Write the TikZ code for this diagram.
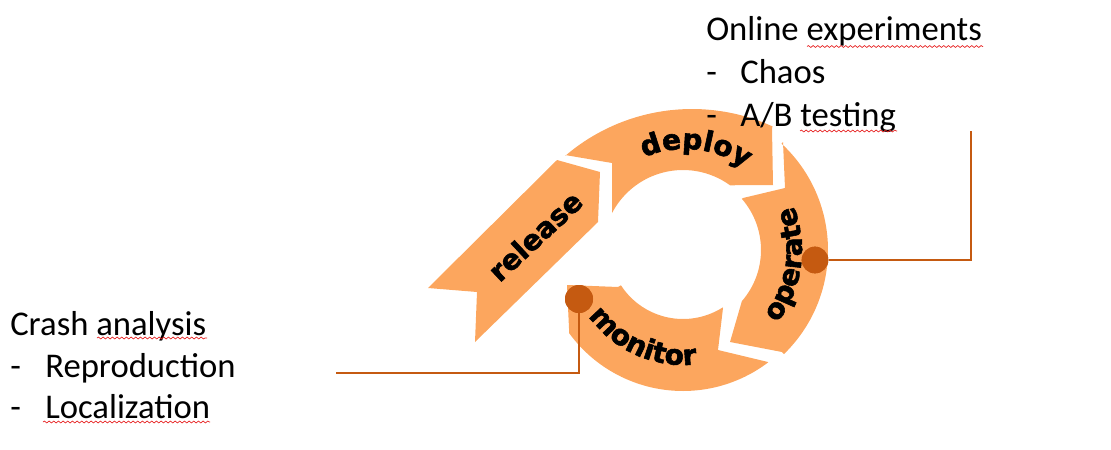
\documentclass[tikz,border=0pt]{standalone}
\usepackage{fontspec}
\setmainfont{Carlito}
\newfontfamily\lblfont{DejaVu Sans}[BoldFont={DejaVu Sans Bold}, BoldFeatures={FakeBold=2}]
\usetikzlibrary{decorations.text,decorations.pathmorphing}
\definecolor{ringfill}{RGB}{252,166,94}
\definecolor{accent}{RGB}{197,90,17}
\definecolor{spell}{RGB}{230,30,30}
\begin{document}
\begin{tikzpicture}[x=0.75pt,y=-0.75pt,
  seg/.style={fill=ringfill, draw=none},
  txt/.style={anchor=base west, inner sep=0pt, font=\fontsize{26}{31}\selectfont},
  conn/.style={draw=accent, line width=1.5pt},
  dotnode/.style={circle, fill=accent, draw=none, inner sep=0pt, minimum size=20pt},
  wavy/.style={draw=spell, line width=0.5pt, decorate, decoration={snake, amplitude=0.7pt, segment length=3.5pt}},
  lblfnt/.style={font=\lblfont\bfseries\fontsize{21}{25}\selectfont}
]
\useasboundingbox (0,0) rectangle (1111,450);

% release (straight chevron arrow)
\fill[seg] (428,288) -- (557,160) -- (600,172) -- (598,222) -- (475,342) -- (477,292) -- cycle;
% deploy
\fill[seg] (565,155) -- (612,163)
  -- plot[domain=-152.5:-54, samples=40] ({683+80*cos(\x)},{250+80*sin(\x)})
  -- (773,185) -- (772,128)
  -- plot[domain=-65.6:-130.4, samples=40] ({692+195*cos(\x)},{304+195*sin(\x)})
  -- cycle;
% operate
\fill[seg] (783,142) -- (785,188) -- (743,198)
  -- plot[domain=-41:41, samples=40] ({683+78*cos(\x)},{250+78*sin(\x)})
  -- (730,342) -- (782,352)
  -- plot[domain=45.9:-47.2, samples=50] ({683+145*cos(\x)},{250+145*sin(\x)})
  -- cycle;
% monitor
\fill[seg] (723,308) -- (718,350) -- (768,362)
  -- plot[domain=52.8:143.8, samples=50] ({683+141*cos(\x)},{250+141*sin(\x)})
  -- (567,285) -- (618,287)
  -- plot[domain=147:57.6, samples=40] ({683+74*cos(\x)},{245+74*sin(\x)})
  -- cycle;

% labels on the ring
\node[lblfnt, rotate=43, inner sep=0pt] (release) at (535,236) {release};
\path[decorate, decoration={text along path, text={|\lblfont\bfseries\fontsize{21}{25}\selectfont|deploy}, text align=center}]
  plot[domain=-144:-24, samples=60] ({685+104*cos(\x)},{253+104*sin(\x)});
\path[decorate, decoration={text along path, text={|\lblfont\bfseries\fontsize{21}{25}\selectfont|operate}, text align=center}]
  plot[domain=60:-44, samples=60] ({683+119*cos(\x)},{250+119*sin(\x)});
\path[decorate, decoration={text along path, text={|\lblfont\bfseries\fontsize{21}{25}\selectfont|monitor}, text align=center}]
  plot[domain=170:58, samples=60] ({683+115*cos(\x)},{250+115*sin(\x)});

% connectors and dots
\node[dotnode] (dotop) at (815,260) {};
\node[dotnode, minimum size=21pt] (dotmon) at (579,299) {};
\coordinate (rc) at (971,260);
\coordinate (rt) at (971,131);
\coordinate (lc) at (579,373);
\coordinate (le) at (336,373);
\draw[conn] (dotop) -- (rc) -- (rt);
\draw[conn] (dotmon) -- (lc) -- (le);
\node[dotnode] at (dotop) {};
\node[dotnode, minimum size=21pt] at (dotmon) {};

% right text
\node[txt] (t1) at (706,40.5) {Online experiments};
\node[txt] (d1) at (706,83) {-};
\node[txt] (t2) at (740,83) {Chaos};
\node[txt] (d2) at (706,126) {-};
\node[txt] (t3) at (740,126) {A/B testing};
% left text
\node[txt] (l1) at (10,335) {Crash analysis};
\node[txt] (ld1) at (10,377) {-};
\node[txt] (l2) at (45,377) {Reproduction};
\node[txt] (ld2) at (10,418) {-};
\node[txt] (l3) at (45,418) {Localization};

% spell-check underlines
\draw[wavy] (807,46.5) -- (983,46.5);
\draw[wavy] (800,131) -- (897,131);
\draw[wavy] (97,338) -- (207,338);
\draw[wavy] (43,422) -- (210,422);
\end{tikzpicture}
\end{document}
